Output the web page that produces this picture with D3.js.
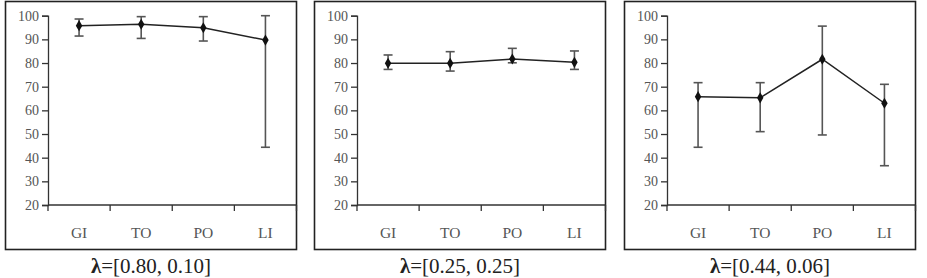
<!DOCTYPE html>
<html>
<head>
<meta charset="utf-8">
<script src="https://cdn.jsdelivr.net/npm/d3@7"></script>
<style>
  body { margin: 0; background: #fff; }
  svg { display: block; }
</style>
</head>
<body>
<svg id="chart"></svg>
<script>
const categories = ['GI', 'TO', 'PO', 'LI'];
const yTicks = [20, 30, 40, 50, 60, 70, 80, 90, 100];
const lambdas = ['0.80, 0.10', '0.25, 0.25', '0.44, 0.06'];

const mean1 = [95.8, 96.4, 94.9, 89.7];
const upper1 = [98.6, 99.6, 99.6, 100];
const lower1 = [91.4, 90.4, 89.3, 44.4];

const mean2 = [79.9, 79.9, 81.7, 80.3];
const upper2 = [83.4, 84.8, 86.2, 85.1];
const lower2 = [77.3, 76.6, 80.1, 77.3];

const mean3 = [65.8, 65.3, 81.6, 63.0];
const upper3 = [71.7, 71.7, 95.6, 71.0];
const lower3 = [44.4, 51.0, 49.6, 36.6];

const panels = [
    { lambda: lambdas[0], mean: mean1, upper: upper1, lower: lower1 },
    { lambda: lambdas[1], mean: mean2, upper: upper2, lower: lower2 },
    { lambda: lambdas[2], mean: mean3, upper: upper3, lower: lower3 }
];

const W = 927, H = 278;
const boxLefts = [5, 314, 624];
const boxW = 291, boxTop = 1, boxBottom = 249;
const axisOffset = 43;
const font = '"Liberation Serif", "Times New Roman", serif';

const svg = d3.select('#chart').attr('width', W).attr('height', H);

const yScale = d3.scaleLinear().domain([20, 100]).range([205, 15.7]);

panels.forEach((p, i) => {
    const left = boxLefts[i];
    const g = svg.append('g').attr('transform', `translate(${left},0)`);

    // frame
    g.append('rect')
        .attr('x', 0.5).attr('y', boxTop + 0.5)
        .attr('width', boxW).attr('height', boxBottom - boxTop)
        .attr('fill', 'none').attr('stroke', '#222').attr('stroke-width', 1.6);

    const xScale = d3.scaleBand().domain(categories).range([axisOffset, boxW + 0.5]);

    // y axis
    const ya = g.append('g').attr('transform', `translate(${axisOffset},0)`)
        .call(d3.axisLeft(yScale).tickValues(yTicks).tickSize(6).tickPadding(3));
    ya.select('.domain').attr('stroke', '#333').attr('stroke-width', 1.3);
    ya.selectAll('line').attr('stroke', '#333').attr('stroke-width', 1.3);
    ya.selectAll('text').attr('font-family', font).attr('font-size', 14).attr('fill', '#555');

    // x axis, ticks sit between categories
    const bounds = categories.map(c => xScale(c)).concat([xScale.range()[1]]);
    const xa = g.append('g').attr('transform', `translate(0,${yScale(20)})`);
    xa.append('line')
        .attr('x1', axisOffset).attr('x2', xScale.range()[1])
        .attr('stroke', '#333').attr('stroke-width', 1.3);
    xa.selectAll('.xt').data(bounds).enter().append('line')
        .attr('x1', d => d).attr('x2', d => d)
        .attr('y1', 0).attr('y2', 6)
        .attr('stroke', '#333').attr('stroke-width', 1.3);
    xa.selectAll('.xl').data(categories).enter().append('text')
        .attr('x', d => xScale(d) + xScale.bandwidth() / 2)
        .attr('y', 33)
        .attr('text-anchor', 'middle')
        .attr('font-family', font).attr('font-size', 15.5).attr('fill', '#555')
        .text(d => d);

    const cx = c => xScale(c) + xScale.bandwidth() / 2;

    // error bars
    const eb = g.append('g').attr('stroke', '#555').attr('stroke-width', 1.6);
    categories.forEach((c, j) => {
        eb.append('line').attr('x1', cx(c)).attr('x2', cx(c))
            .attr('y1', yScale(p.upper[j])).attr('y2', yScale(p.lower[j]));
        [p.upper[j], p.lower[j]].forEach(v => {
            eb.append('line').attr('x1', cx(c) - 4.5).attr('x2', cx(c) + 4.5)
                .attr('y1', yScale(v)).attr('y2', yScale(v));
        });
    });

    // mean line
    const line = d3.line().x((d, j) => cx(categories[j])).y(d => yScale(d));
    g.append('path').datum(p.mean).attr('d', line)
        .attr('fill', 'none').attr('stroke', '#222').attr('stroke-width', 1.5);

    g.selectAll('.pt').data(p.mean).enter().append('path')
        .attr('transform', (d, j) => `translate(${cx(categories[j])},${yScale(d)})`)
        .attr('d', d3.symbol().type(d3.symbolDiamond).size(36))
        .attr('fill', '#111');

    // caption
    const cap = svg.append('text')
        .attr('x', left + boxW / 2 + 0.5).attr('y', 273)
        .attr('text-anchor', 'middle')
        .attr('font-family', font).attr('font-size', 21).attr('fill', '#222');
    cap.append('tspan').attr('font-weight', 'bold').text('λ');
    cap.append('tspan').text(`=[${p.lambda}]`);
});
</script>
</body>
</html>
